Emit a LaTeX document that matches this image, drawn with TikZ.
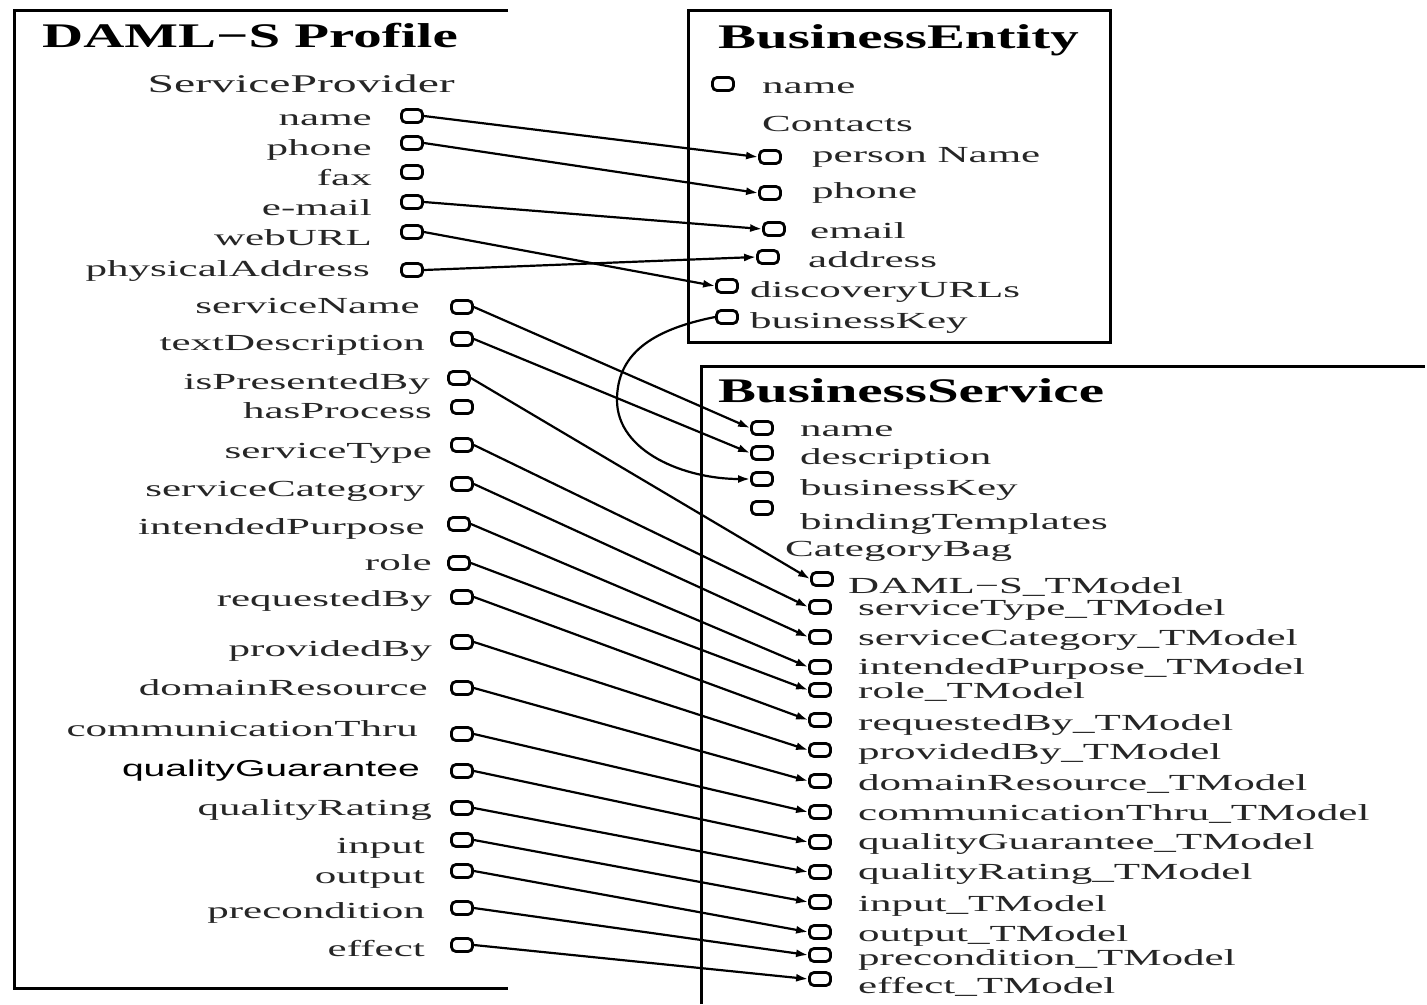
\documentclass[tikz,border=0pt]{standalone}
\usepackage{fontspec}
\setmainfont{Liberation Serif}[FakeStretch=1.65]
\newfontfamily\bodyfont{Liberation Serif}[FakeStretch=1.87]
\newfontfamily\guarfont{Liberation Sans}[FakeStretch=1.7]
\usetikzlibrary{arrows.meta}

\begin{document}
\begin{tikzpicture}[x=1pt,y=-1pt,
  port/.style={draw, rectangle, rounded corners=4.5pt, line width=2.8pt,
    minimum width=21pt, minimum height=13pt, inner sep=0pt},
  lbl/.style={inner sep=0pt, font=\bodyfont\fontsize{23}{25}\selectfont,
    text=black!85, yshift=-6pt},
  ttl/.style={inner sep=0pt, anchor=base west,
    font=\fontsize{34.5}{36}\selectfont\bfseries},
  link/.style={line width=2.2pt, -{Latex[length=12pt,width=8pt]}},
  frame/.style={line width=3pt}]

\useasboundingbox (0,0) rectangle (1427,1004);
\fill[white] (0,0) rectangle (1427,1004);

% ---------- frames ----------
\draw[frame] (508,10) -- (14,10) -- (14,988) -- (508,988);
\draw[frame] (688,10) rectangle (1110,342);
\draw[frame] (701,1004) -- (701,366) -- (1425,366);

% ---------- titles ----------
\node[ttl] (tprof) at (42,47) {DAML−S Profile};
\node[ttl] (tent)  at (718,48) {BusinessEntity};
\node[ttl] (tserv) at (718,402) {BusinessService};

% ---------- DAML-S profile properties ----------
\node[lbl, anchor=mid east, font=\bodyfont\fontsize{25.5}{27}\selectfont]
  (sprov) at (455,84) {ServiceProvider};
\foreach \id/\txt/\lx/\ly/\px/\py in {
  lname/name/372/117/412/116,
  lphone/phone/372/147/412/143,
  lfax/fax/372/177/412/172,
  lemail/e-mail/372/207/412/202,
  lweb/webURL/372/237/412/232,
  laddr/physicalAddress/370/268/412/270,
  lsname/serviceName/420/305/462/307,
  ltdesc/textDescription/425/342/462/339,
  lpres/isPresentedBy/430/381/459/378,
  lproc/hasProcess/432/410/462/407,
  lstype/serviceType/432/450/462/445,
  lscat/serviceCategory/425/488/462/484,
  lpurp/intendedPurpose/425/526/459/524,
  lrole/role/432/562/459/563,
  lreq/requestedBy/432/598/462/597,
  lprov/providedBy/432/648/462/642,
  ldom/domainResource/428/687/462/688,
  lcomm/communicationThru/418/728/462/734,
  lqrat/qualityRating/432/807/462/808,
  linput/input/425/845/462/840,
  loutput/output/425/875/462/871,
  lprec/precondition/425/910/462/908,
  leff/effect/425/948/462/945}
{
  \node[port] (\id) at (\px,\py) {};
  \node[lbl, anchor=mid east] (\id-t) at (\lx,\ly) {\txt};
}
\node[port] (lqgua) at (462,771) {};
\node[lbl, anchor=mid east, text=black, font=\guarfont\fontsize{23}{25}\selectfont]
  (lqgua-t) at (420,768) {qualityGuarantee};

% ---------- BusinessEntity ----------
\foreach \id/\txt/\px/\py/\lx/\ly in {
  bename/name/723/84/762/85,
  bepn/person Name/770/157/812/154,
  beph/phone/770/193/812/190,
  beem/email/774/229/810/230,
  bead/address/768/257/808/259,
  bedu/discoveryURLs/727/286/750/289,
  bebk/businessKey/727/317/750/320}
{
  \node[port] (\id) at (\px,\py) {};
  \node[lbl, anchor=mid west] (\id-t) at (\lx,\ly) {\txt};
}
\node[lbl, anchor=mid west] (contacts) at (762,123) {Contacts};

% ---------- BusinessService ----------
\foreach \id/\txt/\px/\py/\lx/\ly in {
  bsname/name/762/428/800/428,
  bsdesc/description/762/453/800/456,
  bsbk/businessKey/762/479/800/487,
  bsbt/bindingTemplates/762/508/800/521,
  tmdaml/DAML−S\_TModel/822/579/848/585,
  tmst/serviceType\_TModel/820/607/858/607,
  tmsc/serviceCategory\_TModel/820/637/858/637,
  tmip/intendedPurpose\_TModel/820/667/858/666,
  tmro/role\_TModel/820/690/858/690,
  tmrb/requestedBy\_TModel/820/720/858/722,
  tmpb/providedBy\_TModel/820/750/858/751,
  tmdr/domainResource\_TModel/820/781/858/782,
  tmct/communicationThru\_TModel/820/812/858/812,
  tmqg/qualityGuarantee\_TModel/820/842/858/841,
  tmqr/qualityRating\_TModel/820/872/858/871,
  tmin/input\_TModel/820/902/858/903,
  tmou/output\_TModel/820/932/858/933,
  tmpr/precondition\_TModel/820/955/858/957,
  tmef/effect\_TModel/820/979/858/985}
{
  \node[port] (\id) at (\px,\py) {};
  \node[lbl, anchor=mid west] (\id-t) at (\lx,\ly) {\txt};
}
\node[lbl, anchor=mid west] (catbag) at (785,548) {CategoryBag};

% ---------- mappings to BusinessEntity ----------
\draw[link] (lname.east)  -- (bepn.west);
\draw[link] (lphone.east) -- (beph.west);
\draw[link] (lemail.east) -- (beem.west);
\draw[link] (lweb.east)   -- (bedu.west);
\draw[link] (laddr.east)  -- (bead.west);

% ---------- mappings to BusinessService ----------
\draw[link] (lsname.east) -- (bsname.west);
\draw[link] (ltdesc.east) -- (bsdesc.west);
\draw[link] (bebk.west) .. controls (650,330) and (617,355) .. (617,400)
                        .. controls (617,452) and (685,479) .. (bsbk.west);
\draw[link] (lpres.east)  -- (tmdaml.west);
\foreach \a/\b in {lstype/tmst, lscat/tmsc, lpurp/tmip, lrole/tmro,
  lreq/tmrb, lprov/tmpb, ldom/tmdr, lcomm/tmct, lqgua/tmqg, lqrat/tmqr,
  linput/tmin, loutput/tmou, lprec/tmpr, leff/tmef}
  \draw[link] (\a.east) -- (\b.west);

\end{tikzpicture}
\end{document}
